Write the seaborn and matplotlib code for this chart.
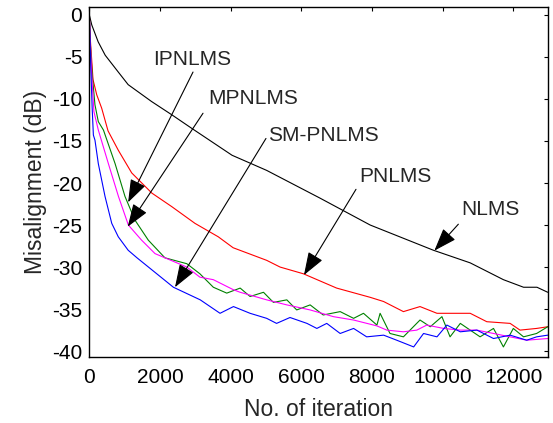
import matplotlib
matplotlib.use("Agg")
import matplotlib.pyplot as plt
import seaborn as sns

# -------------------------------
# Data
# -------------------------------
nlms_x = [0, 70, 250, 450, 820, 1100, 1760, 2340, 2900, 4040, 5020, 6530, 7950,
          9740, 10780, 11720, 12290, 12670, 12975]
nlms_y = [0, -1.2, -3.2, -4.8, -6.8, -8.3, -10.3, -11.9, -13.5, -16.7, -18.5,
          -21.8, -25.0, -28.0, -29.5, -31.5, -32.4, -32.4, -33.0]

pnlms_x = [0, 30, 70, 105, 210, 350, 530, 820, 1200, 1770, 2330, 2990, 3650,
           4070, 5020, 5400, 6060, 7000, 7950, 8330, 8890, 9360, 9840, 10310,
           10780, 11250, 11910, 12190, 12660, 12975]
pnlms_y = [0, -3.0, -5.5, -7.7, -9.5, -11.1, -13.8, -16.1, -18.8, -21.2, -22.8,
           -24.8, -26.4, -27.7, -29.2, -30.0, -30.8, -32.5, -33.6, -34.1, -35.3,
           -34.7, -35.5, -35.5, -35.5, -36.5, -36.7, -37.5, -37.3, -37.1]

ipnlms_x = [0, 30, 80, 160, 255, 400, 730, 1010, 1290, 1670, 2140, 2760, 3130,
            3510, 3890, 4270, 4550, 4930, 5210, 5590, 5870, 6250, 6620, 7100,
            7480, 7760, 8140, 8230, 8510, 8890, 9360, 9650, 9980, 10210, 10500,
            10780, 11060, 11440, 11720, 12000, 12290, 12660, 12975]
ipnlms_y = [0, -3.5, -7.0, -10.7, -12.7, -13.7, -17.7, -21.6, -24.4, -26.8,
            -28.9, -29.6, -30.8, -32.4, -33.1, -32.5, -33.5, -33.0, -34.2, -33.9,
            -35.1, -34.5, -35.7, -35.3, -36.1, -35.5, -36.9, -35.5, -37.9, -38.3,
            -36.3, -37.1, -35.9, -38.3, -36.7, -37.5, -38.3, -37.3, -39.5, -37.3,
            -38.3, -37.9, -37.1]

mpnlms_x = [0, 20, 60, 130, 255, 540, 825, 1105, 1480, 1860, 2760, 3130, 3510,
            4080, 4270, 5020, 5590, 6250, 6910, 7480, 8140, 8420, 8890, 9270,
            9550, 10030, 10500, 10970, 11440, 11910, 12380, 12975]
mpnlms_y = [0, -2.4, -6.5, -11.5, -13.7, -17.7, -21.6, -25.0, -26.8, -28.4,
            -30.0, -31.2, -31.5, -32.7, -33.0, -33.9, -34.5, -35.1, -35.9, -36.3,
            -37.0, -37.5, -37.7, -37.5, -36.9, -37.3, -37.5, -37.5, -37.9, -38.3,
            -38.7, -38.5]

smpnlms_x = [0, 40, 80, 115, 160, 255, 445, 635, 820, 1100, 1350, 2380, 3140,
             3700, 4080, 4550, 5020, 5300, 5680, 6160, 6440, 6720, 7100, 7480,
             7850, 8330, 8700, 9180, 9460, 9840, 10120, 10500, 10970, 11440,
             11910, 12380, 12660, 12975]
smpnlms_y = [0, -6.0, -11.0, -14.3, -14.9, -17.7, -21.6, -24.8, -26.4, -28.0,
             -28.9, -32.4, -33.9, -35.5, -34.7, -35.5, -36.1, -36.7, -36.0, -36.7,
             -37.3, -36.7, -37.9, -37.3, -38.3, -38.1, -38.7, -39.5, -37.9, -38.3,
             -36.9, -37.7, -37.5, -38.5, -38.1, -38.7, -38.3, -38.1]

x_ticks = [0, 2000, 4000, 6000, 8000, 10000, 12000]
y_ticks = [-40, -35, -30, -25, -20, -15, -10, -5, 0]

# label text, label position, arrow start, arrow tip
notes = [
    ("IPNLMS", (2912, -5.36), (2935, -6.8), (1098, -22.3)),
    ("MPNLMS", (4633, -9.9), (3218, -11.7), (1087, -25.2)),
    ("SM-PNLMS", (6628, -14.3), (5000, -14.7), (2425, -32.4)),
    ("PNLMS", (8671, -19.25), (7548, -20.75), (6075, -30.95)),
    ("NLMS", (11340, -23.2), (10445, -24.9), (9766, -28.05)),
]

# -------------------------------
# Plot
# -------------------------------
sns.set_style("white")
plt.rcParams["font.family"] = ["Liberation Sans", "DejaVu Sans"]

fig = plt.figure(figsize=(5.53, 4.23), dpi=100)
ax = fig.add_axes([0.1615, 0.156, 0.829, 0.8267])

series = [
    (nlms_x, nlms_y, "black"),
    (pnlms_x, pnlms_y, "red"),
    (ipnlms_x, ipnlms_y, "green"),
    (mpnlms_x, mpnlms_y, "magenta"),
    (smpnlms_x, smpnlms_y, "blue"),
]
for xs, ys, col in series:
    sns.lineplot(x=xs, y=ys, color=col, linewidth=0.8, ax=ax)

ax.set_xlim(0, 12975)
ax.set_ylim(-40.7, 0.9)
ax.set_xticks(x_ticks)
ax.set_yticks(y_ticks)
ax.set_xticklabels([str(t) for t in x_ticks])
ax.set_yticklabels([str(t) for t in y_ticks])
ax.tick_params(direction="in", length=3, width=0.8, top=True, right=True,
               labelsize=15, colors="black", pad=5)
ax.tick_params(axis="x", pad=8)
for sp in ax.spines.values():
    sp.set_color("black")
    sp.set_linewidth(1.0)

ax.set_xlabel("No. of iteration", fontsize=16.5, labelpad=8)
ax.set_ylabel("Misalignment (dB)", fontsize=16.5, labelpad=4)

for text, pos, start, tip in notes:
    ax.text(pos[0], pos[1], text, fontsize=15, ha="center", va="center")
    ax.annotate("", xy=tip, xytext=start,
                arrowprops=dict(arrowstyle="-|>,head_length=0.95,head_width=0.34",
                                color="black", lw=0.8, shrinkA=0, shrinkB=0,
                                mutation_scale=15))

fig.savefig("out.png", dpi=100)
